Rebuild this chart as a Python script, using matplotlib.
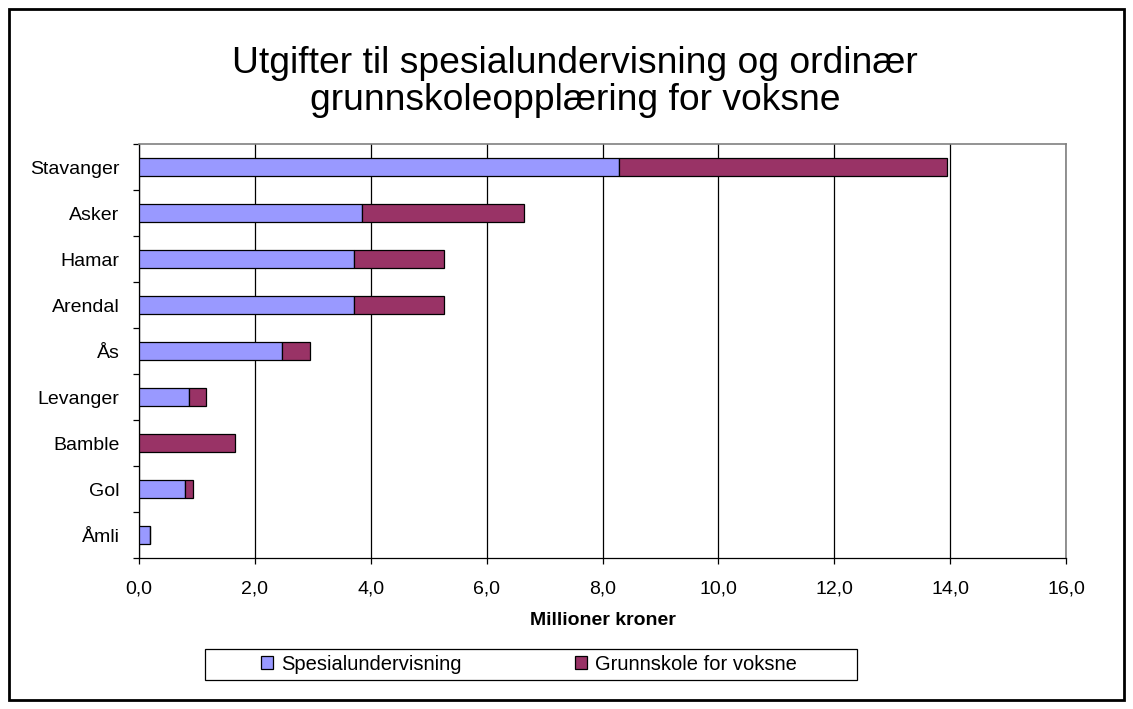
import numpy as np
import matplotlib.pyplot as plt
import matplotlib.patches as patches
from matplotlib.ticker import FuncFormatter, MultipleLocator

plt.rcParams['font.family'] = ['Liberation Sans', 'DejaVu Sans']

# data (millioner kroner)
kommuner = ['Stavanger', 'Asker', 'Hamar', 'Arendal', 'Ås',
            'Levanger', 'Bamble', 'Gol', 'Åmli']
spesial = [8.28, 3.85, 3.71, 3.71, 2.46, 0.87, 0.0, 0.79, 0.19]
grunnskole = [5.67, 2.79, 1.56, 1.56, 0.50, 0.28, 1.66, 0.15, 0.0]

farge_spes = '#9999FF'
farge_grunn = '#993366'

fig = plt.figure(figsize=(11.33, 7.09), dpi=100)
ax = fig.add_axes([139 / 1133, 1 - 558 / 709, (1066 - 139) / 1133, (558 - 144) / 709])

y = np.arange(len(kommuner))
ax.barh(y, spesial, height=0.4, color=farge_spes, edgecolor='black',
        linewidth=0.9, label='Spesialundervisning', zorder=3)
ax.barh(y, grunnskole, left=spesial, height=0.4, color=farge_grunn,
        edgecolor='black', linewidth=0.9, label='Grunnskole for voksne', zorder=3)

ax.set_xlim(0, 16)
ax.set_ylim(len(kommuner) - 0.5, -0.5)
ax.xaxis.set_major_locator(MultipleLocator(2))
ax.xaxis.set_major_formatter(FuncFormatter(lambda v, p: f'{v:.1f}'.replace('.', ',')))
ax.set_yticks(y)
ax.set_yticklabels(kommuner)
ax.set_yticks(np.arange(len(kommuner) + 1) - 0.5, minor=True)

ax.tick_params(axis='y', which='major', length=0, pad=14, labelsize=14)
ax.tick_params(axis='y', which='minor', length=4, width=0.9, color='black', direction='out')
ax.tick_params(axis='x', which='major', length=4.5, width=0.9, pad=12, labelsize=14)

ax.grid(axis='x', color='black', linewidth=0.9)
ax.set_axisbelow(True)
for s in ['top', 'right']:
    ax.spines[s].set_color('#808080')
    ax.spines[s].set_linewidth(1.2)
for s in ['left', 'bottom']:
    ax.spines[s].set_color('black')
    ax.spines[s].set_linewidth(0.9)

ax.set_xlabel('Millioner kroner', fontsize=14, fontweight='bold', labelpad=10)

fig.text(575 / 1133, 1 - 82 / 709,
         'Utgifter til spesialundervisning og ordinær\ngrunnskoleopplæring for voksne',
         ha='center', va='center', fontsize=26.8, linespacing=1.08)

# legend box
fig.patches.append(patches.Rectangle((205 / 1133, 1 - 680 / 709), (857 - 205) / 1133,
                                     31 / 709, transform=fig.transFigure,
                                     fill=False, edgecolor='black', linewidth=0.9))
fig.legend(loc='center', bbox_to_anchor=(529 / 1133, 1 - 664.5 / 709), ncol=2,
           frameon=False, fontsize=14.5, handlelength=0.62, handleheight=0.62,
           handletextpad=0.4, columnspacing=5.6, borderpad=0)

# outer frame
fig.patches.append(patches.Rectangle((9 / 1133, 9 / 709), 1115 / 1133, 691 / 709,
                                     transform=fig.transFigure, fill=False,
                                     edgecolor='black', linewidth=2))

fig.savefig('out.png', dpi=100)
